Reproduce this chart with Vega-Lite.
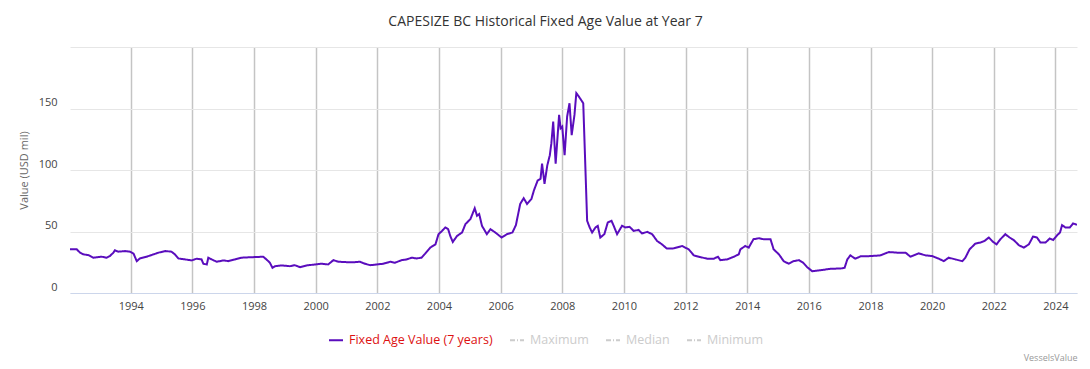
{
  "$schema": "https://vega.github.io/schema/vega-lite/v6.json",
  "width": 1007,
  "height": 246,
  "autosize": {"type": "none"},
  "padding": {"left": 70, "top": 47, "right": 13, "bottom": 76},
  "background": "white",
  "title": {"text": "CAPESIZE BC Historical Fixed Age Value at Year 7", "font": "Open Sans", "fontSize": 14, "fontWeight": "normal", "color": "#333333", "anchor": "middle", "dx": -28, "offset": 18},
  "data": {"values": [
    {"date": "1992-01-12", "value": 35.5, "series": "Fixed Age Value (7 years)"},
    {"date": "1992-04-01", "value": 35.5, "series": "Fixed Age Value (7 years)"},
    {"date": "1992-05-10", "value": 32.8, "series": "Fixed Age Value (7 years)"},
    {"date": "1992-06-20", "value": 31.4, "series": "Fixed Age Value (7 years)"},
    {"date": "1992-08-17", "value": 30.8, "series": "Fixed Age Value (7 years)"},
    {"date": "1992-10-15", "value": 28.7, "series": "Fixed Age Value (7 years)"},
    {"date": "1993-01-22", "value": 29.5, "series": "Fixed Age Value (7 years)"},
    {"date": "1993-03-20", "value": 28.7, "series": "Fixed Age Value (7 years)"},
    {"date": "1993-04-28", "value": 30.0, "series": "Fixed Age Value (7 years)"},
    {"date": "1993-06-09", "value": 32.8, "series": "Fixed Age Value (7 years)"},
    {"date": "1993-06-27", "value": 34.7, "series": "Fixed Age Value (7 years)"},
    {"date": "1993-08-07", "value": 33.6, "series": "Fixed Age Value (7 years)"},
    {"date": "1993-10-26", "value": 34.1, "series": "Fixed Age Value (7 years)"},
    {"date": "1993-12-24", "value": 33.6, "series": "Fixed Age Value (7 years)"},
    {"date": "1994-02-03", "value": 32.0, "series": "Fixed Age Value (7 years)"},
    {"date": "1994-03-13", "value": 25.9, "series": "Fixed Age Value (7 years)"},
    {"date": "1994-04-19", "value": 28.1, "series": "Fixed Age Value (7 years)"},
    {"date": "1994-07-08", "value": 29.5, "series": "Fixed Age Value (7 years)"},
    {"date": "1994-09-27", "value": 31.4, "series": "Fixed Age Value (7 years)"},
    {"date": "1994-11-25", "value": 32.8, "series": "Fixed Age Value (7 years)"},
    {"date": "1995-02-14", "value": 34.1, "series": "Fixed Age Value (7 years)"},
    {"date": "1995-04-28", "value": 33.6, "series": "Fixed Age Value (7 years)"},
    {"date": "1995-06-09", "value": 31.4, "series": "Fixed Age Value (7 years)"},
    {"date": "1995-07-19", "value": 28.1, "series": "Fixed Age Value (7 years)"},
    {"date": "1995-10-08", "value": 27.3, "series": "Fixed Age Value (7 years)"},
    {"date": "1995-12-24", "value": 26.5, "series": "Fixed Age Value (7 years)"},
    {"date": "1996-02-21", "value": 27.9, "series": "Fixed Age Value (7 years)"},
    {"date": "1996-04-19", "value": 27.3, "series": "Fixed Age Value (7 years)"},
    {"date": "1996-05-10", "value": 23.8, "series": "Fixed Age Value (7 years)"},
    {"date": "1996-06-20", "value": 23.2, "series": "Fixed Age Value (7 years)"},
    {"date": "1996-07-08", "value": 28.7, "series": "Fixed Age Value (7 years)"},
    {"date": "1996-08-17", "value": 27.3, "series": "Fixed Age Value (7 years)"},
    {"date": "1996-10-15", "value": 25.4, "series": "Fixed Age Value (7 years)"},
    {"date": "1997-01-04", "value": 26.5, "series": "Fixed Age Value (7 years)"},
    {"date": "1997-03-02", "value": 25.9, "series": "Fixed Age Value (7 years)"},
    {"date": "1997-05-21", "value": 27.3, "series": "Fixed Age Value (7 years)"},
    {"date": "1997-08-07", "value": 28.7, "series": "Fixed Age Value (7 years)"},
    {"date": "1997-10-26", "value": 29.0, "series": "Fixed Age Value (7 years)"},
    {"date": "1998-01-15", "value": 29.2, "series": "Fixed Age Value (7 years)"},
    {"date": "1998-04-19", "value": 29.5, "series": "Fixed Age Value (7 years)"},
    {"date": "1998-05-28", "value": 27.3, "series": "Fixed Age Value (7 years)"},
    {"date": "1998-07-08", "value": 24.6, "series": "Fixed Age Value (7 years)"},
    {"date": "1998-08-07", "value": 20.5, "series": "Fixed Age Value (7 years)"},
    {"date": "1998-09-06", "value": 21.8, "series": "Fixed Age Value (7 years)"},
    {"date": "1998-11-25", "value": 22.4, "series": "Fixed Age Value (7 years)"},
    {"date": "1999-03-02", "value": 21.8, "series": "Fixed Age Value (7 years)"},
    {"date": "1999-04-28", "value": 22.6, "series": "Fixed Age Value (7 years)"},
    {"date": "1999-07-01", "value": 21.0, "series": "Fixed Age Value (7 years)"},
    {"date": "1999-09-16", "value": 22.4, "series": "Fixed Age Value (7 years)"},
    {"date": "1999-12-24", "value": 23.2, "series": "Fixed Age Value (7 years)"},
    {"date": "2000-03-13", "value": 23.8, "series": "Fixed Age Value (7 years)"},
    {"date": "2000-05-28", "value": 23.2, "series": "Fixed Age Value (7 years)"},
    {"date": "2000-07-29", "value": 26.7, "series": "Fixed Age Value (7 years)"},
    {"date": "2000-09-27", "value": 25.4, "series": "Fixed Age Value (7 years)"},
    {"date": "2001-01-01", "value": 25.1, "series": "Fixed Age Value (7 years)"},
    {"date": "2001-04-11", "value": 25.1, "series": "Fixed Age Value (7 years)"},
    {"date": "2001-06-09", "value": 25.4, "series": "Fixed Age Value (7 years)"},
    {"date": "2001-08-07", "value": 23.8, "series": "Fixed Age Value (7 years)"},
    {"date": "2001-10-08", "value": 22.6, "series": "Fixed Age Value (7 years)"},
    {"date": "2001-12-24", "value": 23.2, "series": "Fixed Age Value (7 years)"},
    {"date": "2002-03-13", "value": 23.8, "series": "Fixed Age Value (7 years)"},
    {"date": "2002-06-02", "value": 25.4, "series": "Fixed Age Value (7 years)"},
    {"date": "2002-07-29", "value": 24.6, "series": "Fixed Age Value (7 years)"},
    {"date": "2002-10-15", "value": 26.7, "series": "Fixed Age Value (7 years)"},
    {"date": "2002-12-13", "value": 27.3, "series": "Fixed Age Value (7 years)"},
    {"date": "2003-02-14", "value": 28.7, "series": "Fixed Age Value (7 years)"},
    {"date": "2003-04-11", "value": 28.1, "series": "Fixed Age Value (7 years)"},
    {"date": "2003-06-09", "value": 28.7, "series": "Fixed Age Value (7 years)"},
    {"date": "2003-07-22", "value": 32.0, "series": "Fixed Age Value (7 years)"},
    {"date": "2003-09-20", "value": 36.9, "series": "Fixed Age Value (7 years)"},
    {"date": "2003-11-21", "value": 39.6, "series": "Fixed Age Value (7 years)"},
    {"date": "2003-12-27", "value": 47.8, "series": "Fixed Age Value (7 years)"},
    {"date": "2004-02-07", "value": 50.5, "series": "Fixed Age Value (7 years)"},
    {"date": "2004-03-16", "value": 53.3, "series": "Fixed Age Value (7 years)"},
    {"date": "2004-04-19", "value": 51.9, "series": "Fixed Age Value (7 years)"},
    {"date": "2004-05-14", "value": 46.4, "series": "Fixed Age Value (7 years)"},
    {"date": "2004-06-13", "value": 41.5, "series": "Fixed Age Value (7 years)"},
    {"date": "2004-08-03", "value": 46.4, "series": "Fixed Age Value (7 years)"},
    {"date": "2004-10-01", "value": 49.2, "series": "Fixed Age Value (7 years)"},
    {"date": "2004-11-10", "value": 56.0, "series": "Fixed Age Value (7 years)"},
    {"date": "2005-01-08", "value": 60.1, "series": "Fixed Age Value (7 years)"},
    {"date": "2005-02-28", "value": 68.9, "series": "Fixed Age Value (7 years)"},
    {"date": "2005-03-27", "value": 62.8, "series": "Fixed Age Value (7 years)"},
    {"date": "2005-04-22", "value": 64.2, "series": "Fixed Age Value (7 years)"},
    {"date": "2005-05-25", "value": 54.6, "series": "Fixed Age Value (7 years)"},
    {"date": "2005-07-22", "value": 47.8, "series": "Fixed Age Value (7 years)"},
    {"date": "2005-09-02", "value": 51.9, "series": "Fixed Age Value (7 years)"},
    {"date": "2005-10-30", "value": 49.2, "series": "Fixed Age Value (7 years)"},
    {"date": "2006-01-12", "value": 45.1, "series": "Fixed Age Value (7 years)"},
    {"date": "2006-03-16", "value": 47.8, "series": "Fixed Age Value (7 years)"},
    {"date": "2006-05-21", "value": 49.2, "series": "Fixed Age Value (7 years)"},
    {"date": "2006-07-01", "value": 55.2, "series": "Fixed Age Value (7 years)"},
    {"date": "2006-08-21", "value": 72.4, "series": "Fixed Age Value (7 years)"},
    {"date": "2006-10-01", "value": 77.1, "series": "Fixed Age Value (7 years)"},
    {"date": "2006-11-10", "value": 72.4, "series": "Fixed Age Value (7 years)"},
    {"date": "2007-01-01", "value": 76.5, "series": "Fixed Age Value (7 years)"},
    {"date": "2007-01-30", "value": 83.3, "series": "Fixed Age Value (7 years)"},
    {"date": "2007-03-16", "value": 91.5, "series": "Fixed Age Value (7 years)"},
    {"date": "2007-04-19", "value": 92.9, "series": "Fixed Age Value (7 years)"},
    {"date": "2007-05-07", "value": 105.2, "series": "Fixed Age Value (7 years)"},
    {"date": "2007-06-05", "value": 88.8, "series": "Fixed Age Value (7 years)"},
    {"date": "2007-07-08", "value": 103.8, "series": "Fixed Age Value (7 years)"},
    {"date": "2007-08-07", "value": 112.0, "series": "Fixed Age Value (7 years)"},
    {"date": "2007-08-25", "value": 121.6, "series": "Fixed Age Value (7 years)"},
    {"date": "2007-09-16", "value": 139.3, "series": "Fixed Age Value (7 years)"},
    {"date": "2007-10-15", "value": 105.2, "series": "Fixed Age Value (7 years)"},
    {"date": "2007-11-25", "value": 144.8, "series": "Fixed Age Value (7 years)"},
    {"date": "2007-12-13", "value": 133.9, "series": "Fixed Age Value (7 years)"},
    {"date": "2008-01-01", "value": 135.3, "series": "Fixed Age Value (7 years)"},
    {"date": "2008-01-29", "value": 112.0, "series": "Fixed Age Value (7 years)"},
    {"date": "2008-02-28", "value": 143.4, "series": "Fixed Age Value (7 years)"},
    {"date": "2008-03-27", "value": 154.3, "series": "Fixed Age Value (7 years)"},
    {"date": "2008-04-22", "value": 128.4, "series": "Fixed Age Value (7 years)"},
    {"date": "2008-05-25", "value": 144.8, "series": "Fixed Age Value (7 years)"},
    {"date": "2008-06-16", "value": 162.5, "series": "Fixed Age Value (7 years)"},
    {"date": "2008-07-15", "value": 159.8, "series": "Fixed Age Value (7 years)"},
    {"date": "2008-08-10", "value": 157.1, "series": "Fixed Age Value (7 years)"},
    {"date": "2008-09-06", "value": 154.3, "series": "Fixed Age Value (7 years)"},
    {"date": "2008-10-01", "value": 102.5, "series": "Fixed Age Value (7 years)"},
    {"date": "2008-10-22", "value": 58.7, "series": "Fixed Age Value (7 years)"},
    {"date": "2008-11-21", "value": 53.3, "series": "Fixed Age Value (7 years)"},
    {"date": "2008-12-20", "value": 49.2, "series": "Fixed Age Value (7 years)"},
    {"date": "2009-01-29", "value": 53.3, "series": "Fixed Age Value (7 years)"},
    {"date": "2009-02-25", "value": 54.6, "series": "Fixed Age Value (7 years)"},
    {"date": "2009-03-27", "value": 45.1, "series": "Fixed Age Value (7 years)"},
    {"date": "2009-05-14", "value": 47.8, "series": "Fixed Age Value (7 years)"},
    {"date": "2009-06-24", "value": 57.4, "series": "Fixed Age Value (7 years)"},
    {"date": "2009-08-07", "value": 58.7, "series": "Fixed Age Value (7 years)"},
    {"date": "2009-09-02", "value": 54.6, "series": "Fixed Age Value (7 years)"},
    {"date": "2009-10-12", "value": 47.8, "series": "Fixed Age Value (7 years)"},
    {"date": "2009-12-09", "value": 54.6, "series": "Fixed Age Value (7 years)"},
    {"date": "2010-01-19", "value": 53.3, "series": "Fixed Age Value (7 years)"},
    {"date": "2010-03-09", "value": 53.8, "series": "Fixed Age Value (7 years)"},
    {"date": "2010-04-26", "value": 50.5, "series": "Fixed Age Value (7 years)"},
    {"date": "2010-06-24", "value": 51.3, "series": "Fixed Age Value (7 years)"},
    {"date": "2010-08-03", "value": 48.4, "series": "Fixed Age Value (7 years)"},
    {"date": "2010-10-04", "value": 49.7, "series": "Fixed Age Value (7 years)"},
    {"date": "2010-12-02", "value": 47.8, "series": "Fixed Age Value (7 years)"},
    {"date": "2011-01-29", "value": 42.3, "series": "Fixed Age Value (7 years)"},
    {"date": "2011-03-27", "value": 39.6, "series": "Fixed Age Value (7 years)"},
    {"date": "2011-05-25", "value": 36.1, "series": "Fixed Age Value (7 years)"},
    {"date": "2011-08-14", "value": 36.3, "series": "Fixed Age Value (7 years)"},
    {"date": "2011-11-21", "value": 38.2, "series": "Fixed Age Value (7 years)"},
    {"date": "2012-02-07", "value": 35.5, "series": "Fixed Age Value (7 years)"},
    {"date": "2012-04-08", "value": 30.6, "series": "Fixed Age Value (7 years)"},
    {"date": "2012-06-24", "value": 29.2, "series": "Fixed Age Value (7 years)"},
    {"date": "2012-09-13", "value": 27.9, "series": "Fixed Age Value (7 years)"},
    {"date": "2012-12-02", "value": 27.9, "series": "Fixed Age Value (7 years)"},
    {"date": "2013-01-19", "value": 29.5, "series": "Fixed Age Value (7 years)"},
    {"date": "2013-02-17", "value": 26.7, "series": "Fixed Age Value (7 years)"},
    {"date": "2013-05-07", "value": 27.3, "series": "Fixed Age Value (7 years)"},
    {"date": "2013-07-26", "value": 29.5, "series": "Fixed Age Value (7 years)"},
    {"date": "2013-09-23", "value": 31.4, "series": "Fixed Age Value (7 years)"},
    {"date": "2013-10-12", "value": 35.5, "series": "Fixed Age Value (7 years)"},
    {"date": "2013-12-09", "value": 38.2, "series": "Fixed Age Value (7 years)"},
    {"date": "2014-01-19", "value": 36.9, "series": "Fixed Age Value (7 years)"},
    {"date": "2014-03-16", "value": 43.7, "series": "Fixed Age Value (7 years)"},
    {"date": "2014-05-18", "value": 44.5, "series": "Fixed Age Value (7 years)"},
    {"date": "2014-07-15", "value": 43.7, "series": "Fixed Age Value (7 years)"},
    {"date": "2014-10-04", "value": 43.7, "series": "Fixed Age Value (7 years)"},
    {"date": "2014-11-10", "value": 35.5, "series": "Fixed Age Value (7 years)"},
    {"date": "2015-01-12", "value": 31.4, "series": "Fixed Age Value (7 years)"},
    {"date": "2015-03-09", "value": 25.9, "series": "Fixed Age Value (7 years)"},
    {"date": "2015-05-07", "value": 23.8, "series": "Fixed Age Value (7 years)"},
    {"date": "2015-07-04", "value": 25.9, "series": "Fixed Age Value (7 years)"},
    {"date": "2015-09-06", "value": 26.7, "series": "Fixed Age Value (7 years)"},
    {"date": "2015-10-26", "value": 24.6, "series": "Fixed Age Value (7 years)"},
    {"date": "2015-12-13", "value": 21.0, "series": "Fixed Age Value (7 years)"},
    {"date": "2016-02-10", "value": 17.7, "series": "Fixed Age Value (7 years)"},
    {"date": "2016-05-18", "value": 18.5, "series": "Fixed Age Value (7 years)"},
    {"date": "2016-09-13", "value": 19.7, "series": "Fixed Age Value (7 years)"},
    {"date": "2017-01-12", "value": 19.9, "series": "Fixed Age Value (7 years)"},
    {"date": "2017-02-28", "value": 20.5, "series": "Fixed Age Value (7 years)"},
    {"date": "2017-04-01", "value": 27.3, "series": "Fixed Age Value (7 years)"},
    {"date": "2017-05-07", "value": 30.6, "series": "Fixed Age Value (7 years)"},
    {"date": "2017-07-04", "value": 27.9, "series": "Fixed Age Value (7 years)"},
    {"date": "2017-09-06", "value": 29.8, "series": "Fixed Age Value (7 years)"},
    {"date": "2018-01-01", "value": 30.0, "series": "Fixed Age Value (7 years)"},
    {"date": "2018-04-28", "value": 30.6, "series": "Fixed Age Value (7 years)"},
    {"date": "2018-08-07", "value": 33.3, "series": "Fixed Age Value (7 years)"},
    {"date": "2018-11-14", "value": 32.8, "series": "Fixed Age Value (7 years)"},
    {"date": "2019-02-21", "value": 32.8, "series": "Fixed Age Value (7 years)"},
    {"date": "2019-04-19", "value": 29.5, "series": "Fixed Age Value (7 years)"},
    {"date": "2019-07-26", "value": 32.2, "series": "Fixed Age Value (7 years)"},
    {"date": "2019-10-15", "value": 30.6, "series": "Fixed Age Value (7 years)"},
    {"date": "2020-01-01", "value": 30.0, "series": "Fixed Age Value (7 years)"},
    {"date": "2020-03-20", "value": 27.9, "series": "Fixed Age Value (7 years)"},
    {"date": "2020-05-18", "value": 25.9, "series": "Fixed Age Value (7 years)"},
    {"date": "2020-07-15", "value": 28.7, "series": "Fixed Age Value (7 years)"},
    {"date": "2020-10-04", "value": 27.3, "series": "Fixed Age Value (7 years)"},
    {"date": "2020-12-24", "value": 25.9, "series": "Fixed Age Value (7 years)"},
    {"date": "2021-01-29", "value": 28.7, "series": "Fixed Age Value (7 years)"},
    {"date": "2021-03-20", "value": 35.5, "series": "Fixed Age Value (7 years)"},
    {"date": "2021-05-28", "value": 40.2, "series": "Fixed Age Value (7 years)"},
    {"date": "2021-07-26", "value": 41.0, "series": "Fixed Age Value (7 years)"},
    {"date": "2021-09-13", "value": 42.3, "series": "Fixed Age Value (7 years)"},
    {"date": "2021-11-03", "value": 45.1, "series": "Fixed Age Value (7 years)"},
    {"date": "2021-12-24", "value": 41.5, "series": "Fixed Age Value (7 years)"},
    {"date": "2022-02-03", "value": 39.6, "series": "Fixed Age Value (7 years)"},
    {"date": "2022-03-20", "value": 43.7, "series": "Fixed Age Value (7 years)"},
    {"date": "2022-05-18", "value": 47.8, "series": "Fixed Age Value (7 years)"},
    {"date": "2022-07-08", "value": 45.1, "series": "Fixed Age Value (7 years)"},
    {"date": "2022-08-25", "value": 43.1, "series": "Fixed Age Value (7 years)"},
    {"date": "2022-10-26", "value": 38.8, "series": "Fixed Age Value (7 years)"},
    {"date": "2022-12-24", "value": 36.9, "series": "Fixed Age Value (7 years)"},
    {"date": "2023-02-21", "value": 39.6, "series": "Fixed Age Value (7 years)"},
    {"date": "2023-04-11", "value": 45.9, "series": "Fixed Age Value (7 years)"},
    {"date": "2023-05-28", "value": 45.1, "series": "Fixed Age Value (7 years)"},
    {"date": "2023-07-08", "value": 41.0, "series": "Fixed Age Value (7 years)"},
    {"date": "2023-09-06", "value": 41.0, "series": "Fixed Age Value (7 years)"},
    {"date": "2023-10-26", "value": 44.3, "series": "Fixed Age Value (7 years)"},
    {"date": "2023-12-06", "value": 43.1, "series": "Fixed Age Value (7 years)"},
    {"date": "2024-01-22", "value": 47.0, "series": "Fixed Age Value (7 years)"},
    {"date": "2024-02-25", "value": 49.2, "series": "Fixed Age Value (7 years)"},
    {"date": "2024-03-20", "value": 55.2, "series": "Fixed Age Value (7 years)"},
    {"date": "2024-04-28", "value": 53.3, "series": "Fixed Age Value (7 years)"},
    {"date": "2024-06-20", "value": 53.3, "series": "Fixed Age Value (7 years)"},
    {"date": "2024-07-29", "value": 56.6, "series": "Fixed Age Value (7 years)"},
    {"date": "2024-09-13", "value": 55.4, "series": "Fixed Age Value (7 years)"}
  ]},
  "mark": {"type": "line", "strokeWidth": 2, "clip": true},
  "encoding": {
    "x": {
      "field": "date", "type": "temporal",
      "scale": {"domain": [{"year": 1992, "month": 1, "date": 12}, {"year": 2024, "month": 9, "date": 13}]},
      "axis": {
        "title": "VesselsValue",
        "values": [{"year": 1994}, {"year": 1996}, {"year": 1998}, {"year": 2000}, {"year": 2002}, {"year": 2004}, {"year": 2006}, {"year": 2008}, {"year": 2010}, {"year": 2012}, {"year": 2014}, {"year": 2016}, {"year": 2018}, {"year": 2020}, {"year": 2022}, {"year": 2024}],
        "format": "%Y",
        "grid": true, "gridColor": "#c4c4c4", "gridWidth": 1.5,
        "ticks": false,
        "domainColor": "#ccd6eb", "domainWidth": 1,
        "labelFont": "Open Sans", "labelFontSize": 11, "labelColor": "#444444", "labelPadding": 7,
        "titleFont": "Open Sans", "titleFontSize": 9, "titleFontWeight": "normal", "titleColor": "#999999",
        "titleAnchor": "end", "titleAlign": "right", "titleBaseline": "alphabetic", "titleX": 1007, "titleY": 67
      }
    },
    "y": {
      "field": "value", "type": "quantitative",
      "scale": {"domain": [0, 200]},
      "axis": {
        "title": "Value (USD mil)",
        "values": [0, 50, 100, 150, 200],
        "labelExpr": "datum.value == 200 ? '' : datum.label",
        "grid": true, "gridColor": "#e6e6e6", "gridWidth": 1,
        "domain": false, "ticks": false,
        "labelPadding": 13, "labelOffset": -6,
        "labelFont": "Open Sans", "labelFontSize": 11, "labelColor": "#444444",
        "titleFont": "Open Sans", "titleFontSize": 11, "titleFontWeight": "normal", "titleColor": "#666666", "titlePadding": 9
      }
    },
    "color": {
      "field": "series", "type": "nominal",
      "scale": {"domain": ["Fixed Age Value (7 years)", "Maximum", "Median", "Minimum"], "range": ["#5a0dbd", "#cccccc", "#cccccc", "#cccccc"]},
      "legend": {
        "title": null, "orient": "none", "legendX": 258, "legendY": 285, "direction": "horizontal",
        "symbolType": "stroke", "symbolSize": 196, "symbolStrokeWidth": 2,
        "labelFont": "Open Sans", "labelFontSize": 12.5, "labelOffset": 5, "columnPadding": 13, "labelLimit": 300,
        "encode": {"labels": {"update": {"fill": {"signal": "datum.label == 'Fixed Age Value (7 years)' ? '#dd1111' : '#cccccc'"}}}}
      }
    },
    "strokeDash": {
      "field": "series", "type": "nominal",
      "scale": {"domain": ["Fixed Age Value (7 years)", "Maximum", "Median", "Minimum"], "range": [[1, 0], [5, 2, 1, 2], [5, 2, 1, 2], [5, 2, 1, 2]]},
      "legend": {
        "title": null, "orient": "none", "legendX": 258, "legendY": 285, "direction": "horizontal",
        "symbolType": "stroke", "symbolSize": 196, "symbolStrokeWidth": 2,
        "labelFont": "Open Sans", "labelFontSize": 12.5, "labelOffset": 5, "columnPadding": 13, "labelLimit": 300,
        "encode": {"labels": {"update": {"fill": {"signal": "datum.label == 'Fixed Age Value (7 years)' ? '#dd1111' : '#cccccc'"}}}}
      }
    }
  },
  "config": {"view": {"stroke": null}}
}
